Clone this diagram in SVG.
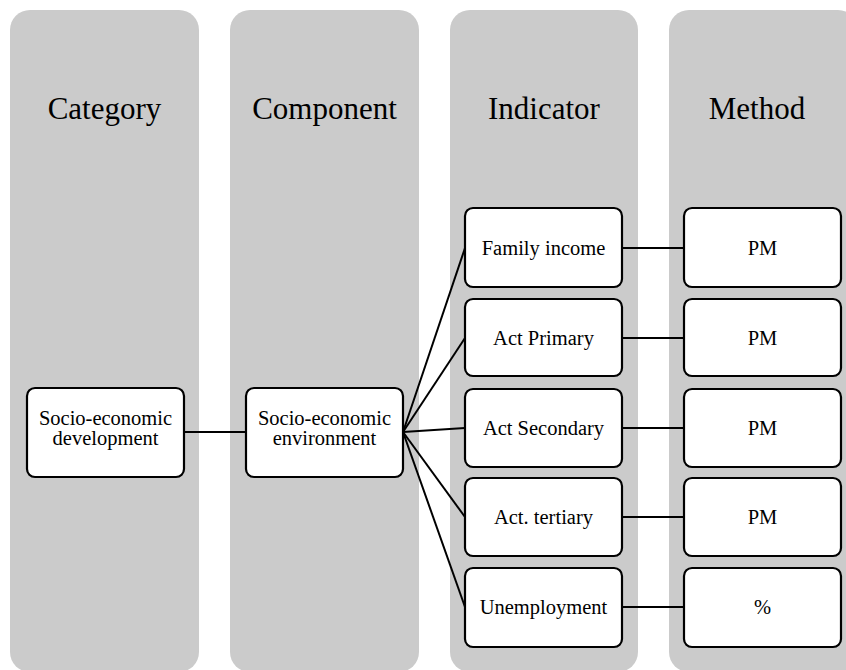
<svg xmlns="http://www.w3.org/2000/svg" width="846" height="670" viewBox="0 0 846 670">
<style>
.col{fill:#cbcbcb;}
.hd{font-family:"Liberation Serif","Times New Roman",serif;font-size:31px;fill:#000;text-anchor:middle;}
.box{fill:#fff;stroke:#000;stroke-width:2.2;}
.lb{font-family:"Liberation Serif","Times New Roman",serif;font-size:20.5px;fill:#000;text-anchor:middle;}
.ln{stroke:#000;stroke-width:2;fill:none;}
</style>
<g id="columns">
<rect class="col" x="10" y="10" width="189" height="662" rx="20"/>
<rect class="col" x="230" y="10" width="189" height="662" rx="20"/>
<rect class="col" x="450" y="10" width="188" height="662" rx="20"/>
<rect class="col" x="669" y="10" width="189" height="662" rx="20"/>
<text class="hd" x="104.5" y="119">Category</text>
<text class="hd" x="324.5" y="119">Component</text>
<text class="hd" x="544" y="119">Indicator</text>
<text class="hd" x="757" y="119">Method</text>
</g>
<g id="connectors">
<line class="ln" x1="184" y1="432" x2="246" y2="432"/>
<line class="ln" x1="403" y1="432" x2="465" y2="248"/>
<line class="ln" x1="403" y1="432" x2="465" y2="338"/>
<line class="ln" x1="403" y1="432" x2="465" y2="428"/>
<line class="ln" x1="403" y1="432" x2="465" y2="517"/>
<line class="ln" x1="403" y1="432" x2="465" y2="607"/>
<line class="ln" x1="622" y1="248" x2="684" y2="248"/>
<line class="ln" x1="622" y1="338" x2="684" y2="338"/>
<line class="ln" x1="622" y1="428" x2="684" y2="428"/>
<line class="ln" x1="622" y1="517" x2="684" y2="517"/>
<line class="ln" x1="622" y1="607" x2="684" y2="607"/>
</g>
<g id="category">
<rect class="box" x="27" y="388" width="157" height="89" rx="8"/>
<text class="lb" x="105.5" y="425">Socio-economic</text>
<text class="lb" x="105.5" y="445">development</text>
</g>
<g id="component">
<rect class="box" x="246" y="388" width="157" height="89" rx="8"/>
<text class="lb" x="324.5" y="425">Socio-economic</text>
<text class="lb" x="324.5" y="445">environment</text>
</g>
<g id="ind-family">
<rect class="box" x="465" y="208" width="157" height="79" rx="8"/>
<text class="lb" x="543.5" y="255">Family income</text>
</g>
<g id="ind-primary">
<rect class="box" x="465" y="299" width="157" height="77" rx="8"/>
<text class="lb" x="543.5" y="345">Act Primary</text>
</g>
<g id="ind-secondary">
<rect class="box" x="465" y="389" width="157" height="78" rx="8"/>
<text class="lb" x="543.5" y="435">Act Secondary</text>
</g>
<g id="ind-tertiary">
<rect class="box" x="465" y="478" width="157" height="78" rx="8"/>
<text class="lb" x="543.5" y="524">Act. tertiary</text>
</g>
<g id="ind-unemployment">
<rect class="box" x="465" y="568" width="157" height="79" rx="8"/>
<text class="lb" x="543.5" y="614">Unemployment</text>
</g>
<g id="m-family">
<rect class="box" x="684" y="208" width="157" height="79" rx="8"/>
<text class="lb" x="762.5" y="255">PM</text>
</g>
<g id="m-primary">
<rect class="box" x="684" y="299" width="157" height="77" rx="8"/>
<text class="lb" x="762.5" y="345">PM</text>
</g>
<g id="m-secondary">
<rect class="box" x="684" y="389" width="157" height="78" rx="8"/>
<text class="lb" x="762.5" y="435">PM</text>
</g>
<g id="m-tertiary">
<rect class="box" x="684" y="478" width="157" height="78" rx="8"/>
<text class="lb" x="762.5" y="524">PM</text>
</g>
<g id="m-unemployment">
<rect class="box" x="684" y="568" width="157" height="79" rx="8"/>
<text class="lb" x="762.5" y="614">%</text>
</g>
</svg>
